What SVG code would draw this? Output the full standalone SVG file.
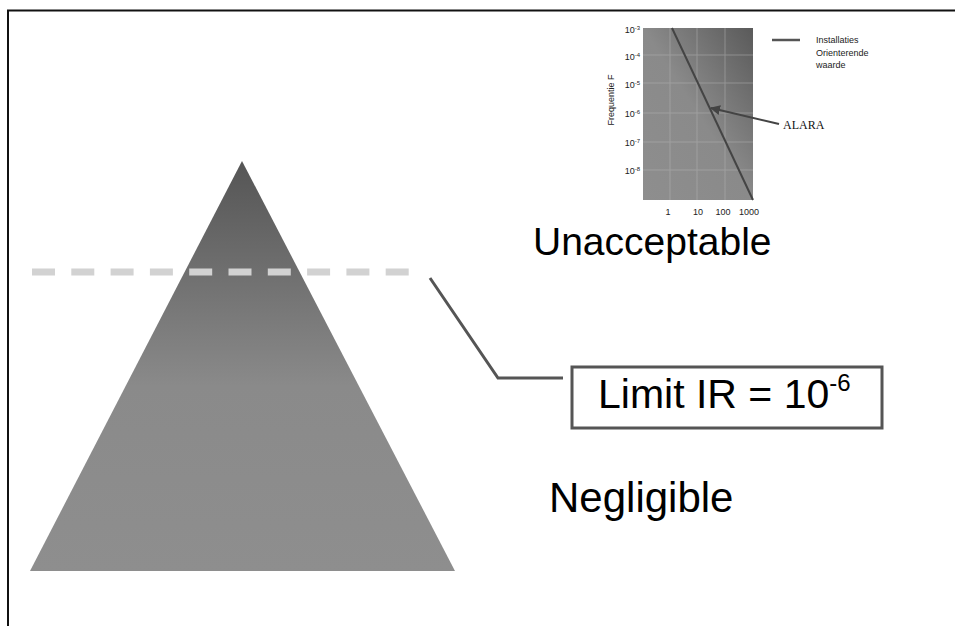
<svg xmlns="http://www.w3.org/2000/svg" width="955" height="626" viewBox="0 0 955 626">
  <style>
    .sans { font-family: "Liberation Sans", Arial, sans-serif; fill: #000; }
    .serif { font-family: "Liberation Serif", "Times New Roman", serif; fill: #111; }
    .lead { fill: none; stroke: #555; stroke-width: 3; }
    .grid { stroke: #b4b4b4; stroke-width: 1; opacity: 0.5; }
    .tick { font-family: "Liberation Sans", Arial, sans-serif; font-size: 9px; fill: #222; }
  </style>
  <defs>
    <linearGradient id="pyramidFill" x1="0" y1="0" x2="0" y2="1">
      <stop offset="0" stop-color="#555"/>
      <stop offset="0.55" stop-color="#8a8a8a"/>
      <stop offset="1" stop-color="#8e8e8e"/>
    </linearGradient>
    <linearGradient id="plotFill" x1="0" y1="1" x2="1" y2="0">
      <stop offset="0" stop-color="#8e8e8e"/>
      <stop offset="0.5" stop-color="#8a8a8a"/>
      <stop offset="1" stop-color="#5a5a5a"/>
    </linearGradient>
    <marker id="arrowHead" viewBox="0 0 10 10" refX="9" refY="5" markerWidth="5" markerHeight="5" orient="auto">
      <path d="M0,0 L10,5 L0,10 z" fill="#444"/>
    </marker>
  </defs>

  <rect width="955" height="626" fill="#fff"/>

  <!-- frame: top and left edges -->
  <path d="M8,626 V10.5 H955" fill="none" stroke="#111" stroke-width="2"/>

  <!-- risk pyramid -->
  <g id="pyramid">
    <polygon points="242,161 455,571 30,571" fill="url(#pyramidFill)"/>
  </g>

  <!-- limit level -->
  <g id="limit-line">
    <line x1="32" y1="272" x2="412" y2="272" stroke="#d2d2d2" stroke-width="7" stroke-dasharray="23 16.3"/>
  </g>

  <g id="connectors">
    <polyline class="lead" points="430,278 498,378 563,378"/>
  </g>

  <g id="limit-box">
    <rect x="572" y="367" width="310" height="61" fill="#fff" stroke="#555" stroke-width="3"/>
    <text class="sans" x="598" y="408" font-size="41">Limit IR = 10<tspan font-size="24" dy="-17">-6</tspan></text>
  </g>

  <g id="unacceptable">
    <text class="sans" x="533" y="255" font-size="39">Unacceptable</text>
  </g>

  <g id="negligible">
    <text class="sans" x="549" y="512" font-size="42">Negligible</text>
  </g>

  <!-- FN chart -->
  <g id="fn-chart">
    <rect x="643" y="28" width="110" height="172" fill="url(#plotFill)"/>
    <g class="grid">
      <line x1="670" y1="28" x2="670" y2="200"/>
      <line x1="697" y1="28" x2="697" y2="200"/>
      <line x1="725" y1="28" x2="725" y2="200"/>
      <line x1="643" y1="55" x2="753" y2="55"/>
      <line x1="643" y1="83" x2="753" y2="83"/>
      <line x1="643" y1="113" x2="753" y2="113"/>
      <line x1="643" y1="142" x2="753" y2="142"/>
      <line x1="643" y1="170" x2="753" y2="170"/>
    </g>
    <line x1="672" y1="28" x2="753" y2="200" stroke="#444" stroke-width="2"/>

    <g class="tick" text-anchor="end">
      <text x="640" y="33">10<tspan font-size="6" dy="-3">-3</tspan></text>
      <text x="640" y="60">10<tspan font-size="6" dy="-3">-4</tspan></text>
      <text x="640" y="88">10<tspan font-size="6" dy="-3">-5</tspan></text>
      <text x="640" y="117">10<tspan font-size="6" dy="-3">-6</tspan></text>
      <text x="640" y="146">10<tspan font-size="6" dy="-3">-7</tspan></text>
      <text x="640" y="174">10<tspan font-size="6" dy="-3">-8</tspan></text>
    </g>
    <g class="tick" text-anchor="middle">
      <text x="668" y="215">1</text>
      <text x="698" y="215">10</text>
      <text x="723" y="215">100</text>
      <text x="749" y="215">1000</text>
    </g>
    <text class="tick" font-size="8" transform="translate(614,100) rotate(-90)" text-anchor="middle">Frequentie F</text>

    <!-- legend -->
    <line x1="772" y1="40" x2="800" y2="40" stroke="#555" stroke-width="2.5"/>
    <g class="tick">
      <text x="816" y="43">Installaties</text>
      <text x="816" y="56">Orienterende</text>
      <text x="816" y="68">waarde</text>
    </g>

    <!-- ALARA pointer -->
    <line x1="779" y1="124" x2="711" y2="108" stroke="#444" stroke-width="2" marker-end="url(#arrowHead)"/>
    <text class="serif" x="783" y="129" font-size="12">ALARA</text>
  </g>
</svg>
